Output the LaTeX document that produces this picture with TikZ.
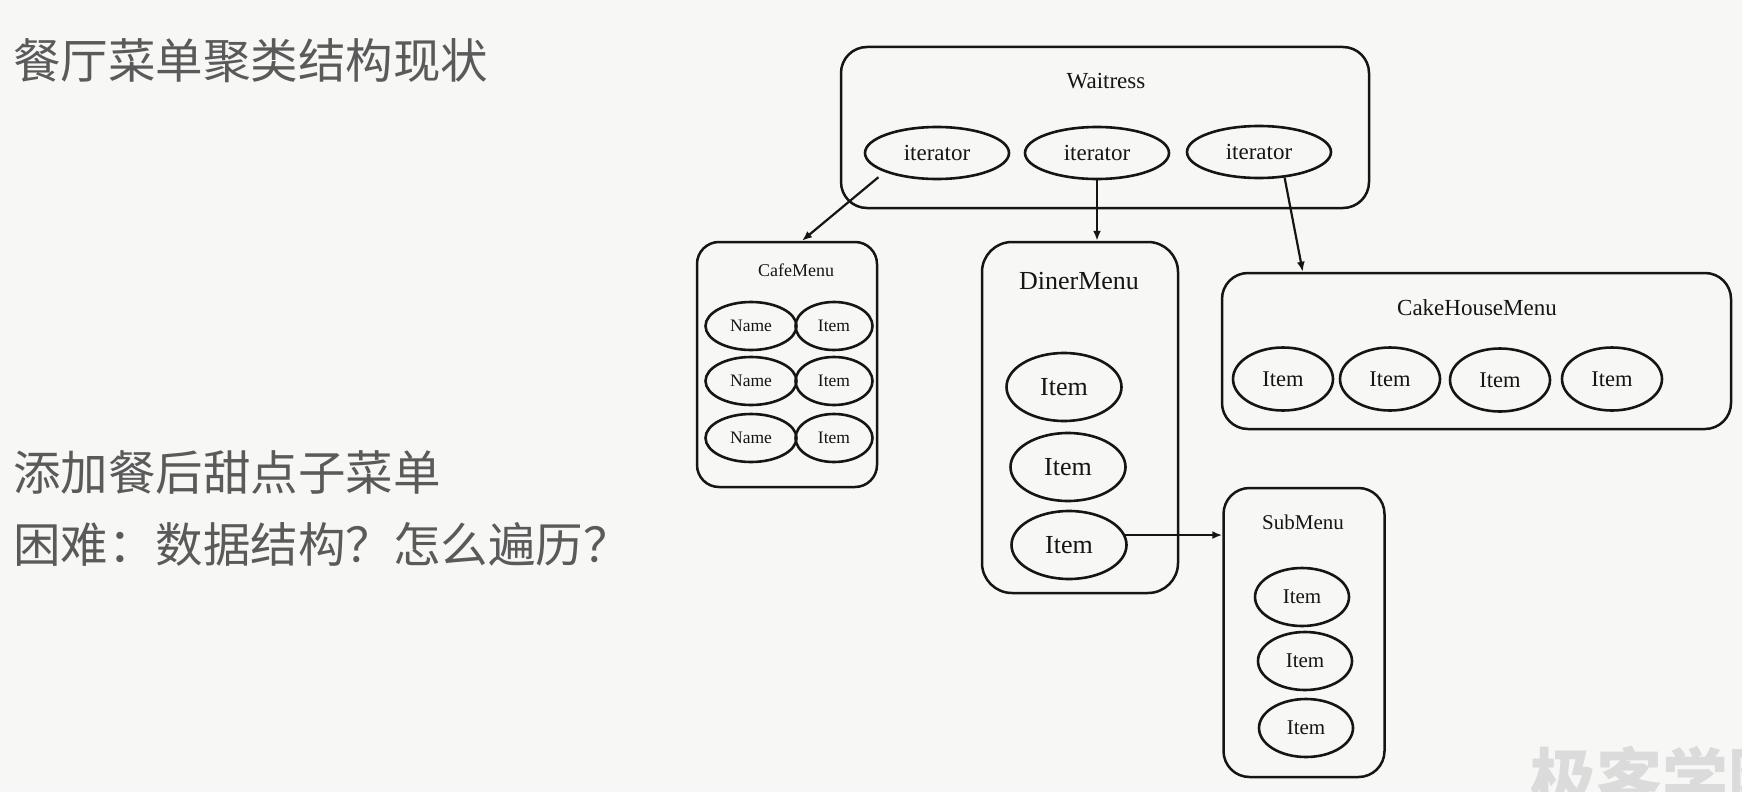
\documentclass[tikz,border=0pt]{standalone}
\usepackage{fontspec}
\setmainfont{Liberation Serif}
\newfontfamily\cjk{Noto Sans CJK SC}
\usetikzlibrary{shapes.geometric,arrows.meta}
\definecolor{paper}{HTML}{F7F7F5}
\definecolor{ink}{HTML}{151515}
\definecolor{slide}{HTML}{5A5A5A}

\begin{document}
\begin{tikzpicture}[x=1pt,y=-1pt,
    menubox/.style={draw=ink,line width=2.5pt,rounded corners=26pt,inner sep=0pt},
    entry/.style={draw=ink,ellipse,line width=2.6pt,inner sep=0pt,text=ink},
    heading/.style={text=ink,inner sep=0pt},
    cjktext/.style={anchor=west,inner sep=0pt,text=slide,font=\cjk\fontsize{47.5}{52}\selectfont},
    link/.style={draw=ink,line width=2.2pt,-{Latex[length=10pt,width=8pt]}}]
        \useasboundingbox (0,0) rectangle (1742,792);
        \fill[paper] (0,0) rectangle (1742,792);
        \clip (0,0) rectangle (1742,792);

        \node[cjktext] (title) at (13,61) {餐厅菜单聚类结构现状};
        \node[cjktext] (task) at (13,472) {添加餐后甜点子菜单};
        \node[cjktext] (hard) at (13,544) {困难：数据结构？怎么遍历？};

        % waitress with three iterators
        \node[menubox,minimum width=528pt,minimum height=161pt] (waitress) at (1105,127.5) {};
        \node[heading,font=\fontsize{23}{27}\selectfont] (wtitle) at (1106,81) {Waitress};
        \node[entry,minimum width=144pt,minimum height=52pt,font=\fontsize{23}{27}\selectfont] (it1) at (937,153) {iterator};
        \node[entry,minimum width=144pt,minimum height=52pt,font=\fontsize{23}{27}\selectfont] (it2) at (1097,153) {iterator};
        \node[entry,minimum width=144pt,minimum height=52pt,font=\fontsize{23}{27}\selectfont] (it3) at (1259,152) {iterator};

        % cafe menu
        \node[menubox,rounded corners=22pt,minimum width=180pt,minimum height=245pt] (cafe) at (787,364.5) {};
        \node[heading,font=\fontsize{18}{21}\selectfont] (ctitle) at (796,270) {CafeMenu};
        \node[entry,minimum width=91pt,minimum height=48pt,font=\fontsize{17.5}{20}\selectfont] (n1) at (751,326) {Name};
        \node[entry,minimum width=77pt,minimum height=48pt,font=\fontsize{17.5}{20}\selectfont] (c1) at (834,326) {Item};
        \node[entry,minimum width=91pt,minimum height=48pt,font=\fontsize{17.5}{20}\selectfont] (n2) at (751,381) {Name};
        \node[entry,minimum width=77pt,minimum height=48pt,font=\fontsize{17.5}{20}\selectfont] (c2) at (834,381) {Item};
        \node[entry,minimum width=91pt,minimum height=48pt,font=\fontsize{17.5}{20}\selectfont] (n3) at (751,438) {Name};
        \node[entry,minimum width=77pt,minimum height=48pt,font=\fontsize{17.5}{20}\selectfont] (c3) at (834,438) {Item};

        % diner menu
        \node[menubox,rounded corners=30pt,minimum width=196pt,minimum height=351pt] (diner) at (1080,417.5) {};
        \node[heading,font=\fontsize{26}{30}\selectfont] (dtitle) at (1079,281) {DinerMenu};
        \node[entry,minimum width=115pt,minimum height=68pt,font=\fontsize{26}{30}\selectfont] (d1) at (1064,387) {Item};
        \node[entry,minimum width=115pt,minimum height=68pt,font=\fontsize{26}{30}\selectfont] (d2) at (1068,467) {Item};
        \node[entry,minimum width=115pt,minimum height=68pt,font=\fontsize{26}{30}\selectfont] (d3) at (1069,545) {Item};

        % cake house menu
        \node[menubox,minimum width=509pt,minimum height=156pt] (cake) at (1476.5,351) {};
        \node[heading,font=\fontsize{23}{27}\selectfont] (ktitle) at (1477,308) {CakeHouseMenu};
        \node[entry,minimum width=100pt,minimum height=63pt,font=\fontsize{22.5}{26}\selectfont] (k1) at (1283,379) {Item};
        \node[entry,minimum width=100pt,minimum height=63pt,font=\fontsize{22.5}{26}\selectfont] (k2) at (1390,379) {Item};
        \node[entry,minimum width=100pt,minimum height=63pt,font=\fontsize{22.5}{26}\selectfont] (k3) at (1500,380) {Item};
        \node[entry,minimum width=100pt,minimum height=63pt,font=\fontsize{22.5}{26}\selectfont] (k4) at (1612,379) {Item};

        % sub menu
        \node[menubox,minimum width=161pt,minimum height=289pt] (sub) at (1304,632.5) {};
        \node[heading,font=\fontsize{21}{25}\selectfont] (stitle) at (1303,522) {SubMenu};
        \node[entry,minimum width=94pt,minimum height=58pt,font=\fontsize{21}{25}\selectfont] (s1) at (1302,597) {Item};
        \node[entry,minimum width=94pt,minimum height=58pt,font=\fontsize{21}{25}\selectfont] (s2) at (1305,661) {Item};
        \node[entry,minimum width=94pt,minimum height=58pt,font=\fontsize{21}{25}\selectfont] (s3) at (1306,728) {Item};

        \draw[link,shorten <=8pt] (it1.200) -- ([xshift=15pt]cafe.north);
        \draw[link] (it2.south) -- (it2.south |- diner.north);
        \draw[link] (it3.-45) -- ([xshift=82pt]cake.north west);
        \draw[link] (d3.10) -- (d3.10 -| sub.west);

        \node[anchor=north west,inner sep=0pt,text=gray!28,font=\cjk\bfseries\fontsize{66}{70}\selectfont] (mark) at (1530,746) {极客学院};
      \end{tikzpicture}
\end{document}
